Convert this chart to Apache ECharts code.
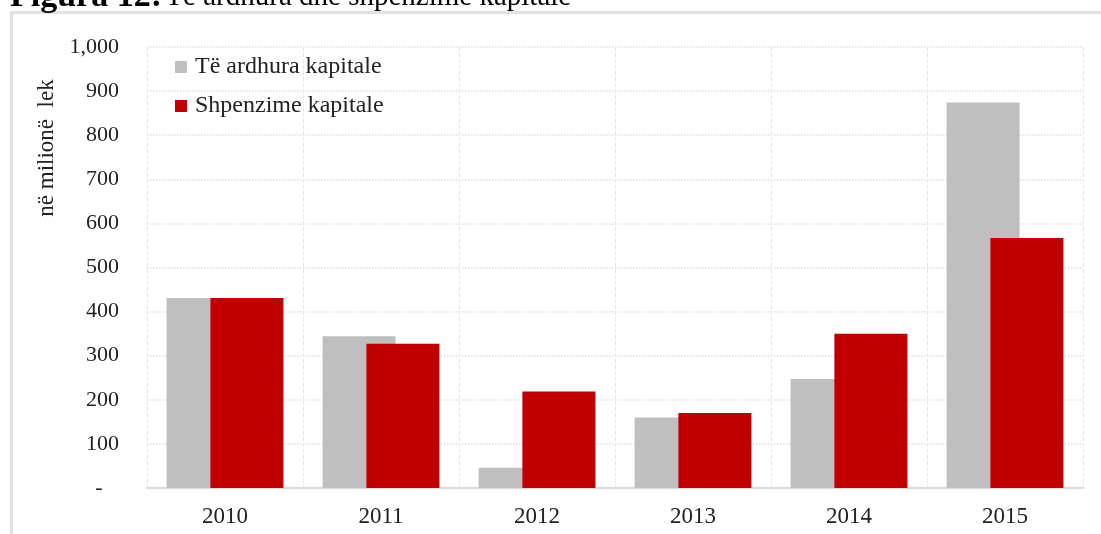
<!DOCTYPE html>
<html>
<head>
<meta charset="utf-8">
<script src="https://cdn.jsdelivr.net/npm/echarts@6/dist/echarts.min.js"></script>
<style>
html, body { margin: 0; padding: 0; background: #fff; }
#chart { width: 1101px; height: 534px; }
</style>
</head>
<body>
<div id="chart"></div>
<script>
// data (milion lek)
var years = ['2010', '2011', '2012', '2013', '2014', '2015'];
var teArdhura = [431, 344, 46, 160, 247, 874];
var shpenzime = [431, 327, 219, 170, 350, 567];
var seriesNames = ['Të ardhura kapitale', 'Shpenzime kapitale'];

var serif = '"Liberation Serif", "Times New Roman", serif';

var chart = echarts.init(document.getElementById('chart'));
chart.setOption({
    animation: false,
    color: ['#bfbfbf', '#c00000'],
    // frame + cropped title + rotated y label
    graphic: [
        {
            type: 'rect',
            shape: { x: 11.5, y: 12.5, width: 1200, height: 600 },
            style: { fill: 'none', stroke: '#e3e3e3', lineWidth: 3 }
        },
        {
            type: 'text',
            x: 10, y: 14,
            style: {
                text: '{b|Figura 12:} {n|Të ardhura dhe shpenzime kapitale}',
                verticalAlign: 'bottom',
                rich: {
                    b: { fontFamily: serif, fontSize: 34, fontWeight: 'bold', fill: '#000' },
                    n: { fontFamily: serif, fontSize: 29, fill: '#000' }
                }
            }
        },
        {
            type: 'text',
            x: 47, y: 148,
            rotation: Math.PI / 2,
            style: {
                text: 'në milionë  lek',
                fontFamily: serif, fontSize: 23, fill: '#222',
                align: 'center', verticalAlign: 'middle'
            }
        }
    ],
    legend: {
        orient: 'vertical',
        left: 170, top: 50,
        itemWidth: 12, itemHeight: 12,
        itemGap: 15,
        icon: 'rect',
        data: seriesNames,
        textStyle: { fontFamily: serif, fontSize: 24, color: '#222', padding: [0, 0, 0, 3] }
    },
    grid: { left: 147, right: 18, top: 47, bottom: 46 },
    xAxis: {
        type: 'category',
        data: years,
        axisTick: { show: false },
        axisLine: { lineStyle: { color: '#d9d9d9', width: 2 } },
        axisLabel: { fontFamily: serif, fontSize: 23, color: '#222', margin: 17 },
        splitLine: { show: true, lineStyle: { color: '#e6e6e6', type: 'dashed' } }
    },
    yAxis: {
        type: 'value',
        min: 0, max: 1000, interval: 100,
        axisLine: { show: false },
        axisTick: { show: false },
        axisLabel: {
            fontFamily: serif, fontSize: 22, color: '#222', margin: 28,
            formatter: function (v) { return v === 0 ? '-   ' : v.toLocaleString('en-US'); }
        },
        splitLine: { lineStyle: { color: '#e0e0e0', type: 'dotted', width: 1.5 } }
    },
    series: [
        { name: seriesNames[0], type: 'bar', data: teArdhura, barWidth: 73, barGap: '-40%' },
        { name: seriesNames[1], type: 'bar', data: shpenzime, barWidth: 73, barGap: '-40%' }
    ]
});
</script>
</body>
</html>
